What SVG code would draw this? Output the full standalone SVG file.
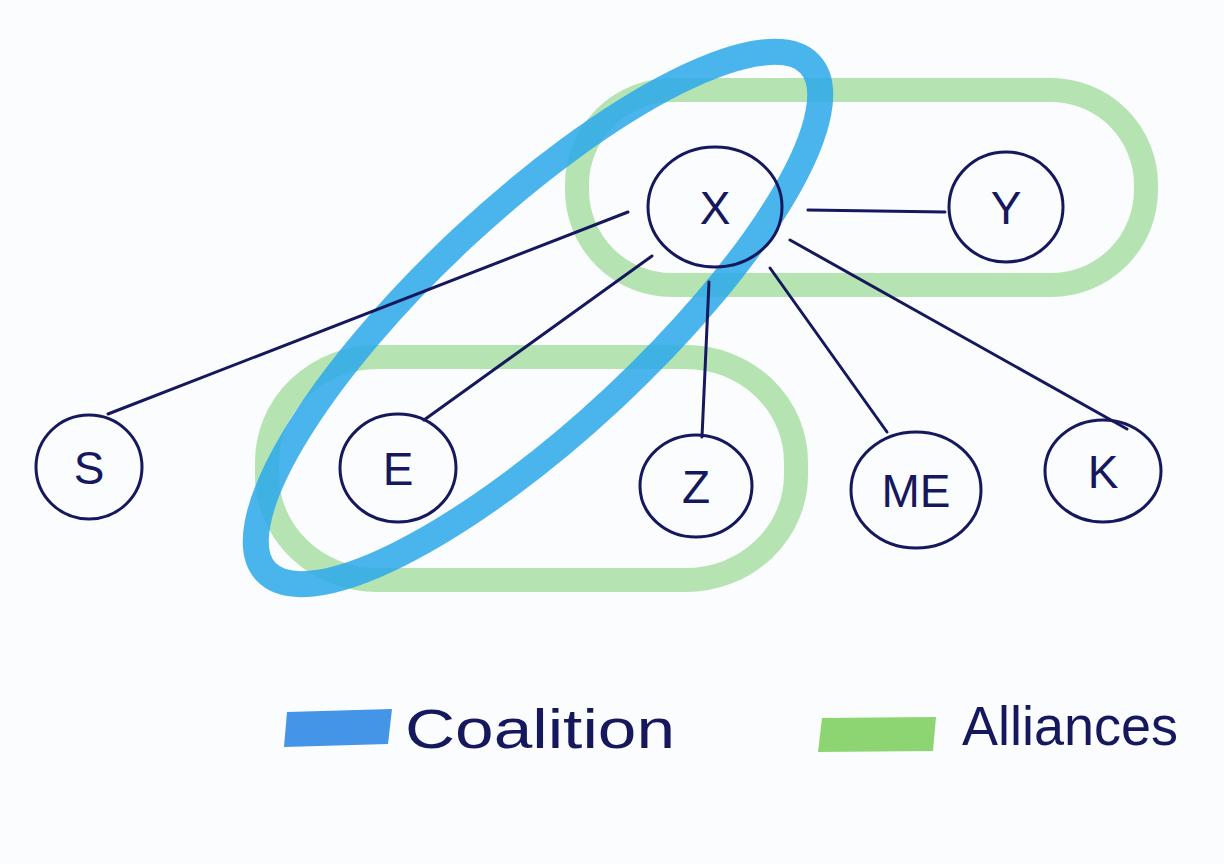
<svg xmlns="http://www.w3.org/2000/svg" width="1224" height="864" viewBox="0 0 1224 864">
<style>
.ink{fill:none;stroke:#16185e;stroke-width:3;stroke-linecap:round}
.lbl{font-family:"Liberation Sans",Arial,sans-serif;font-size:46px;fill:#16185e;text-anchor:middle;font-weight:normal}
.leg{font-family:"Liberation Sans",Arial,sans-serif;font-size:56px;fill:#16185e}
.green{fill:none;stroke:#8fd68a;stroke-opacity:0.65;stroke-width:24}
.blue{fill:none;stroke:#2aa8ea;stroke-opacity:0.85;stroke-width:26}
</style>
<rect width="1224" height="864" fill="#fbfcfd"/>
<g id="highlights">
<rect id="alliance-top" class="green" x="577" y="90" width="569" height="195" rx="95" ry="95"/>
<rect id="alliance-bottom" class="green" x="267" y="357" width="529" height="223" rx="110" ry="105"/>
<ellipse id="coalition" class="blue" cx="538" cy="318" rx="372" ry="110" transform="rotate(-43 538 318)"/>
</g>
<g id="connectors" class="ink">
<line x1="628" y1="212" x2="108" y2="414"/>
<line x1="652" y1="256" x2="424" y2="420"/>
<line x1="709" y1="282" x2="702" y2="437"/>
<line x1="770" y1="268" x2="887" y2="432"/>
<line x1="790" y1="240" x2="1127" y2="429"/>
<line x1="808" y1="210" x2="945" y2="212"/>
</g>
<g id="node-X"><ellipse class="ink" cx="715" cy="207" rx="67" ry="60"/><text class="lbl" x="715" y="224">X</text></g>
<g id="node-Y"><ellipse class="ink" cx="1006" cy="207" rx="57" ry="55"/><text class="lbl" x="1006" y="224">Y</text></g>
<g id="node-S"><ellipse class="ink" cx="89" cy="467" rx="53" ry="52"/><text class="lbl" x="89" y="484">S</text></g>
<g id="node-E"><ellipse class="ink" cx="398" cy="468" rx="58" ry="54"/><text class="lbl" x="398" y="485">E</text></g>
<g id="node-Z"><ellipse class="ink" cx="696" cy="486" rx="56" ry="51"/><text class="lbl" x="696" y="503">Z</text></g>
<g id="node-ME"><ellipse class="ink" cx="916" cy="490" rx="65" ry="58"/><text class="lbl" x="916" y="507">ME</text></g>
<g id="node-K"><ellipse class="ink" cx="1103" cy="471" rx="58" ry="51"/><text class="lbl" x="1103" y="488">K</text></g>
<g id="legend">
<polygon points="287,712 392,709 388,744 284,747" fill="#3a8fe6" opacity="0.95"/>
<text class="leg" x="405" y="748" textLength="270" lengthAdjust="spacingAndGlyphs">Coalition</text>
<polygon points="822,718 936,717 933,751 818,752" fill="#86d36a" opacity="0.95"/>
<text class="leg" x="962" y="745" textLength="216" lengthAdjust="spacingAndGlyphs">Alliances</text>
</g>
</svg>
